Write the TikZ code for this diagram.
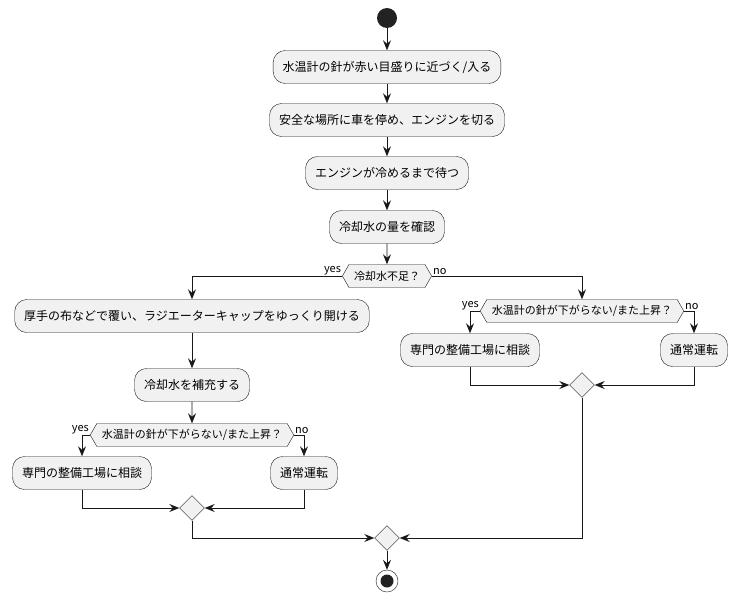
\documentclass[tikz,border=0pt]{standalone}
\usepackage{fontspec}
\setmainfont{Noto Sans CJK JP}
\definecolor{BoxFill}{HTML}{F1F1F1}
\definecolor{BoxLine}{HTML}{181818}
\definecolor{DotColor}{HTML}{222222}
\usepackage{tikz}
\usetikzlibrary{arrows.meta}
\usetikzlibrary{shapes}
\usetikzlibrary{shapes.symbols}
\usetikzlibrary{calc}
\tikzstyle{action} = [draw=BoxLine, fill=BoxFill, rounded corners=12pt, minimum height=33pt, inner xsep=9.5pt, font=\fontsize{12}{14}\selectfont]
\tikzstyle{query} = [draw=BoxLine, fill=BoxFill, shape=signal, signal to=west and east, signal pointer angle=120, minimum height=23pt, inner xsep=5pt, inner ysep=2pt, font=\fontsize{11}{12}\selectfont]
\tikzstyle{merge} = [draw=BoxLine, fill=BoxFill, shape=diamond, minimum size=25pt, inner sep=0pt]
\tikzstyle{flow} = [line width=0.9pt, BoxLine, -{Stealth[length=10pt,width=8pt,inset=3.5pt]}]
\tikzstyle{branch} = [font=\fontsize{11}{12}\selectfont, inner sep=1pt]

\begin{document}
\begin{tikzpicture}[x=1pt, y=-1pt]
    \useasboundingbox (0,0) rectangle (738,602);
    % start / stop
    \node[circle, fill=DotColor, minimum size=20pt, inner sep=0pt] (start) at (387,18) {};
    \node[circle, draw=BoxLine, fill=white, minimum size=22pt, inner sep=0pt] (stop) at (387,581) {};
    \fill[DotColor] (stop.center) circle (6.5pt);

    % main line
    \node[action] (gauge) at (387,67) {水温計の針が赤い目盛りに近づく/入る};
    \node[action] (park) at (387,120) {安全な場所に車を停め、エンジンを切る};
    \node[action] (wait) at (387,173) {エンジンが冷めるまで待つ};
    \node[action] (check) at (387,227) {冷却水の量を確認};
    \node[query] (low) at (387,276) {冷却水不足？};

    % yes side
    \node[action] (cloth) at (192,316) {厚手の布などで覆い、ラジエーターキャップをゆっくり開ける};
    \node[action] (refill) at (192,385) {冷却水を補充する};
    \node[query] (hotA) at (192,435) {水温計の針が下がらない/また上昇？};
    \node[action] (shopA) at (82,473) {専門の整備工場に相談};
    \node[action] (runA) at (304,473) {通常運転};
    \node[merge] (joinA) at (192,508) {};

    % no side
    \node[query] (hotB) at (582,311) {水温計の針が下がらない/また上昇？};
    \node[action] (shopB) at (470,350) {専門の整備工場に相談};
    \node[action] (runB) at (694,350) {通常運転};
    \node[merge] (joinB) at (582,385) {};

    \node[merge] (joinC) at (387,538) {};

    % connectors
    \draw[flow] (start) -- (gauge);
    \draw[flow] (gauge) -- (park);
    \draw[flow] (park) -- (wait);
    \draw[flow] (wait) -- (check);
    \draw[flow] (check) -- (low);
    \draw[flow] (low.west) -| (cloth.north);
    \draw[flow] (low.east) -| (hotB.north);
    \node[branch, anchor=south east] at (low.west) {yes};
    \node[branch, anchor=south west] at (low.east) {no};

    \draw[flow] (cloth) -- (refill);
    \draw[flow] (refill) -- (hotA);
    \draw[flow] (hotA.west) -| (shopA.north);
    \draw[flow] (hotA.east) -| (runA.north);
    \node[branch, anchor=south east] at (hotA.west) {yes};
    \node[branch, anchor=south west] at (hotA.east) {no};
    \draw[flow] (shopA.south) |- (joinA.west);
    \draw[flow] (runA.south) |- (joinA.east);

    \draw[flow] (hotB.west) -| (shopB.north);
    \draw[flow] (hotB.east) -| (runB.north);
    \node[branch, anchor=south east] at (hotB.west) {yes};
    \node[branch, anchor=south west] at (hotB.east) {no};
    \draw[flow] (shopB.south) |- (joinB.west);
    \draw[flow] (runB.south) |- (joinB.east);

    \draw[flow] (joinA.south) |- (joinC.west);
    \draw[flow] (joinB.south) |- (joinC.east);
    \draw[flow] (joinC) -- (stop);
\end{tikzpicture}
\end{document}
